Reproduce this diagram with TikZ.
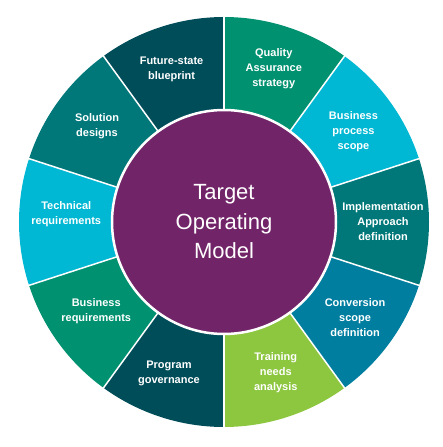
\documentclass[tikz,border=0pt]{standalone}
\usepackage{fontspec}
\setmainfont{Liberation Sans}
\usetikzlibrary{positioning}

\definecolor{tealgreen}{RGB}{0,145,112}
\definecolor{skycyan}{RGB}{0,184,212}
\definecolor{midteal}{RGB}{0,120,122}
\definecolor{oceanblue}{RGB}{0,126,160}
\definecolor{limegreen}{RGB}{141,198,63}
\definecolor{deepteal}{RGB}{0,77,90}
\definecolor{plum}{RGB}{114,36,104}

\begin{document}
\begin{tikzpicture}[x=1pt, y=1pt,
    seglabel/.style={text=white, font=\fontsize{11}{15}\selectfont\bfseries, align=center},
    hub/.style={circle, fill=plum, draw=white, line width=2.5pt, minimum size=224pt, inner sep=0pt,
                text=white, font=\fontsize{22}{29.5}\selectfont, align=center}]

    \useasboundingbox (-224,-225) rectangle (219,222);

    % Draw the ring segments
    \foreach \a/\c in {54/tealgreen, 18/skycyan, -18/midteal, -54/oceanblue, -90/limegreen,
                       -126/deepteal, -162/tealgreen, 162/skycyan, 126/midteal, 90/deepteal} {
        \fill[\c] (0,0) -- (\a:205pt) arc[start angle=\a, delta angle=36, radius=205pt] -- cycle;
    }

    % White dividing lines
    \foreach \a in {18,54,...,342} {
        \draw[white, line width=1.5pt] (0,0) -- (\a:207pt);
    }

    % Centre circle
    \node[hub] (tom) at (0,0) {Target\\Operating\\Model};

    % Segment labels
    \node[seglabel] (qa) at (72:161pt) {Quality\\Assurance\\strategy};
    \node[seglabel] (bproc) at (35:158pt) {Business\\process\\scope};
    \node[seglabel] (impl) at (0:159pt) {Implementation\\Approach\\definition};
    \node[seglabel] (conv) at (-36:162pt) {Conversion\\scope\\definition};
    \node[seglabel] (train) at (-71:159pt) {Training\\needs\\analysis};
    \node[seglabel] (progov) at (-110:161pt) {Program\\governance};
    \node[seglabel] (breq) at (-145:156pt) {Business\\requirements};
    \node[seglabel] (techreq) at (177:158pt) {Technical\\requirements};
    \node[seglabel] (soldes) at (143:159pt) {Solution\\designs};
    \node[seglabel] (future) at (109:161pt) {Future-state\\blueprint};

\end{tikzpicture}
\end{document}
